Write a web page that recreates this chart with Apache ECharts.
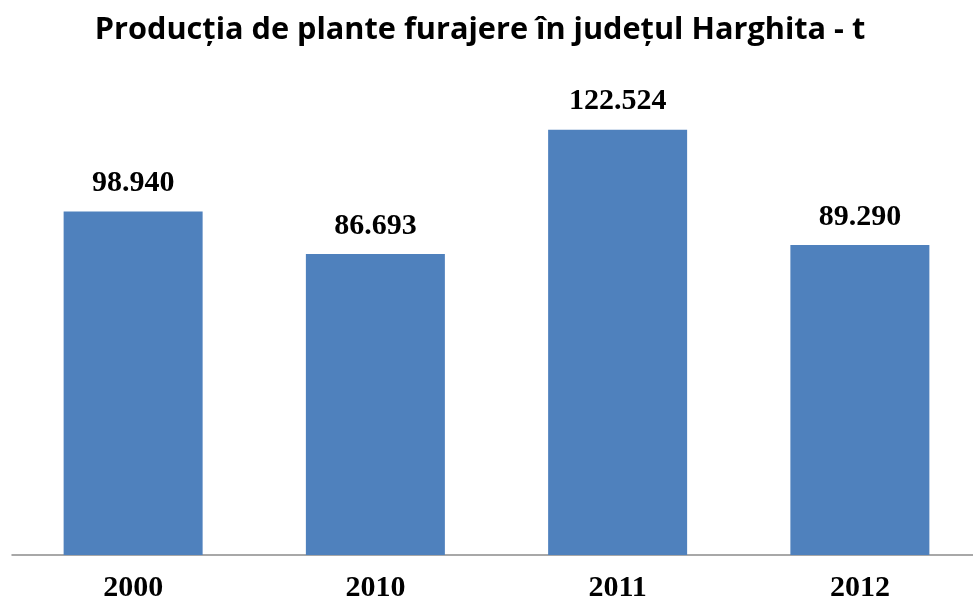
<!DOCTYPE html>
<html><head><meta charset="utf-8">
<script src="https://cdn.jsdelivr.net/npm/echarts@6/dist/echarts.min.js"></script>
<style>html,body{margin:0;padding:0;background:#fff;overflow:hidden}#c{width:981px;height:603px}</style>
</head><body><div id="c"></div>
<script>
const categories = ['2000', '2010', '2011', '2012'];
const values = [98940, 86693, 122524, 89290];
const titleText = 'Producția de plante furajere în județul Harghita - t';

const fmt = v => {
  const s = String(v);
  return s.replace(/\B(?=(\d{3})+(?!\d))/g, '.');
};

const chart = echarts.init(document.getElementById('c'));
chart.setOption({
  animation: false,
  backgroundColor: '#fff',
  title: {
    text: titleText, left: 475, textAlign: 'center', top: 10,
    textStyle: { fontFamily: 'Open Sans', fontWeight: 'bold', fontSize: 30.7, color: '#000' }
  },
  grid: { left: 12, right: 0, top: 69, bottom: 45, containLabel: false },
  xAxis: {
    type: 'category', data: categories,
    axisLine: { lineStyle: { color: '#8c8c8c', width: 1.5 } },
    axisTick: { show: false },
    axisLabel: { margin: 18, fontFamily: 'Liberation Serif', fontWeight: 'bold', fontSize: 30, color: '#000' }
  },
  yAxis: { type: 'value', min: 0, max: 140000, show: false, splitLine: { show: false } },
  series: [{
    type: 'bar', data: values, barWidth: 139,
    itemStyle: { color: '#4F81BD' },
    label: {
      show: true, position: 'top', distance: 13,
      formatter: p => fmt(p.value),
      fontFamily: 'Liberation Serif', fontWeight: 'bold', fontSize: 30, color: '#000'
    }
  }]
});
</script></body></html>
